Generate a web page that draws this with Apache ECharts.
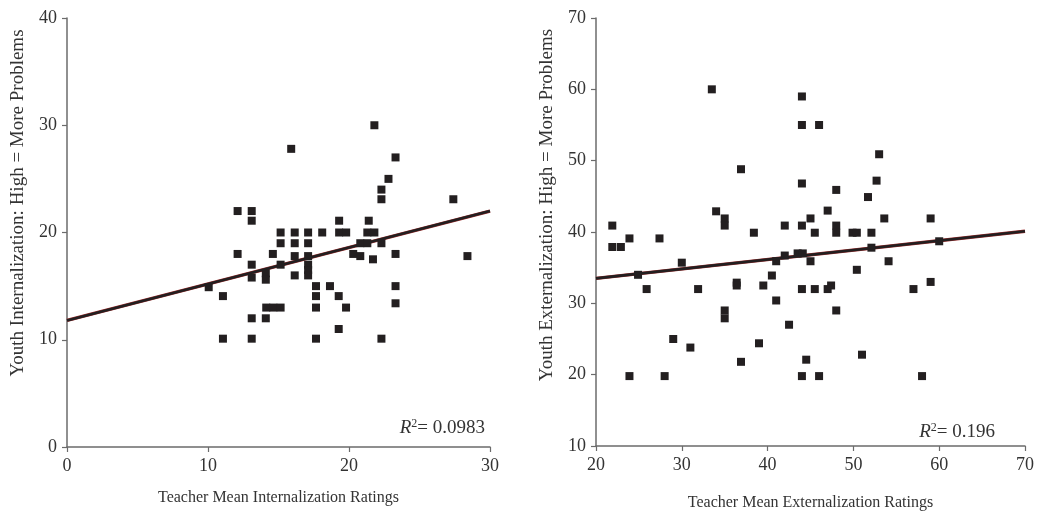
<!DOCTYPE html>
<html>
<head>
<meta charset="utf-8">
<script src="https://cdn.jsdelivr.net/npm/echarts@6/dist/echarts.min.js"></script>
<style>html,body{margin:0;padding:0;background:#fff}#c{width:1043px;height:513px}</style>
</head>
<body>
<div id="c"></div>
<script>
// Left panel: Teacher Mean Internalization (x) vs Youth Internalization (y)
const intPoints = [
  [15.9,27.8],[12.1,22.0],[13.1,22.0],[13.1,21.1],[19.3,21.1],
  [15.15,20.0],[16.15,20.0],[17.1,20.0],[18.1,20.0],[19.3,20.0],[19.8,20.0],
  [15.15,19.0],[16.15,19.0],[17.1,19.0],[12.1,18.0],[14.6,18.0],
  [16.15,17.8],[17.1,17.8],[13.1,17.0],[15.15,17.0],[17.1,17.0],[17.1,16.5],
  [13.1,15.8],[14.1,16.2],[14.1,15.6],[16.15,16.0],[17.1,16.0],
  [10.05,14.9],[11.06,14.07],[17.66,15.0],[18.65,15.0],[17.66,14.07],[19.27,14.07],
  [14.13,13.0],[14.63,13.0],[15.15,13.0],[17.66,13.0],[19.79,13.0],
  [13.1,12.0],[14.1,12.0],[19.27,11.0],[11.06,10.1],[13.1,10.1],[17.66,10.1],
  [21.8,30.0],[23.3,27.0],[22.8,25.0],[22.3,24.0],[22.3,23.1],[27.4,23.1],
  [21.4,21.1],[21.3,20.0],[21.8,20.0],[20.8,19.0],[21.3,19.0],[22.3,19.0],
  [20.3,18.0],[20.8,17.8],[21.7,17.5],[23.3,18.0],[28.4,17.8],
  [23.3,15.0],[23.3,13.4],[22.3,10.1]
];
const intFit = [[0,11.8],[30,22.0]];
const intR2 = '0.0983';

// Right panel: Teacher Mean Externalization (x) vs Youth Externalization (y)
const extPoints = [
  [33.5,60.0],[36.9,48.8],[21.9,40.9],[34.0,42.9],[35.0,41.9],[35.0,40.9],
  [38.4,39.9],[23.9,39.1],[27.4,39.1],[21.9,37.9],[22.9,37.9],
  [30.0,35.7],[24.9,34.0],[25.9,32.0],[31.9,32.0],[36.4,32.9],[36.4,32.5],
  [39.5,32.5],[35.0,29.0],[35.0,27.9],[29.0,25.0],[31.0,23.8],[39.0,24.4],
  [36.9,21.8],[23.9,19.8],[28.0,19.8],
  [44.0,59.0],[44.0,55.0],[46.0,55.0],[53.0,50.9],[52.7,47.2],[44.0,46.8],
  [48.0,45.9],[51.7,44.9],[47.0,43.0],[45.0,41.9],[53.6,41.9],[59.0,41.9],
  [42.0,40.9],[44.0,40.9],[48.0,40.9],[45.5,39.9],[48.0,39.9],[49.9,39.9],
  [50.4,39.9],[52.1,39.9],[60.0,38.7],[52.1,37.8],[42.0,36.7],[43.5,37.0],
  [44.1,37.0],[41.0,35.9],[45.0,35.9],[54.1,35.9],[50.4,34.7],[40.5,33.9],
  [44.0,32.0],[45.5,32.0],[47.0,32.0],[47.4,32.5],[57.0,32.0],[59.0,33.0],
  [41.0,30.4],[48.0,29.0],[42.5,27.0],[51.0,22.8],[44.5,22.1],
  [44.0,19.8],[46.0,19.8],[58.0,19.8]
];
const extFit = [[20,33.5],[70,40.1]];
const extR2 = '0.196';

const FONT = 'Liberation Serif';
const axisCommon = {
  axisLine: {show: true, lineStyle: {color: '#6b6b6b', width: 1.5}},
  axisTick: {show: true, inside: false, length: 5, lineStyle: {color: '#6b6b6b', width: 1.2}},
  splitLine: {show: false},
  axisLabel: {color: '#333', fontFamily: FONT, fontSize: 18, margin: 10}
};

const chart = echarts.init(document.getElementById('c'), null, {renderer: 'canvas'});
const markerStyle = {color: '#231f20', opacity: 1};
function fitSeries(data, xi, yi) {
  return [
    {type: 'line', xAxisIndex: xi, yAxisIndex: yi, data: data, symbol: 'none', silent: true,
     lineStyle: {color: '#9a2a2a', width: 3.4}, z: 3},
    {type: 'line', xAxisIndex: xi, yAxisIndex: yi, data: data, symbol: 'none', silent: true,
     lineStyle: {color: '#231f20', width: 2.6}, z: 4}
  ];
}
const r2Rich = {
  i: {font: 'italic 19px "Liberation Serif"', fill: '#333'},
  s: {font: '12px "Liberation Serif"', fill: '#333', verticalAlign: 'top', padding: [0, 0, 9, 0]},
  n: {font: '19px "Liberation Serif"', fill: '#333'}
};
chart.setOption({
  animation: false,
  backgroundColor: '#fff',
  grid: [
    {left: 67, right: 553, top: 18, bottom: 66, containLabel: false, outerBoundsMode: 'none'},
    {left: 596, right: 18, top: 18, bottom: 67, containLabel: false, outerBoundsMode: 'none'}
  ],
  xAxis: [
    Object.assign({gridIndex: 0, type: 'value', min: 0, max: 30, interval: 10,
      name: 'Teacher Mean Internalization Ratings', nameLocation: 'middle', nameGap: 43,
      nameTextStyle: {color: '#333', fontFamily: FONT, fontSize: 16}}, axisCommon),
    Object.assign({gridIndex: 1, type: 'value', min: 20, max: 70, interval: 10,
      name: 'Teacher Mean Externalization Ratings', nameLocation: 'middle', nameGap: 49,
      nameTextStyle: {color: '#333', fontFamily: FONT, fontSize: 16}}, axisCommon)
  ],
  yAxis: [
    Object.assign({gridIndex: 0, type: 'value', min: 0, max: 40, interval: 10}, axisCommon),
    Object.assign({gridIndex: 1, type: 'value', min: 10, max: 70, interval: 10}, axisCommon)
  ],
  graphic: [
    {type: 'text', x: 18, y: 203, rotation: Math.PI / 2,
     style: {text: 'Youth Internalization: High = More Problems', fill: '#333',
       font: '19px "Liberation Serif"', textAlign: 'center', textVerticalAlign: 'middle'}},
    {type: 'text', x: 547, y: 205, rotation: Math.PI / 2,
     style: {text: 'Youth Externalization: High = More Problems', fill: '#333',
       font: '19px "Liberation Serif"', textAlign: 'center', textVerticalAlign: 'middle'}},
    {type: 'text', x: 485, y: 428,
     style: {rich: r2Rich, text: '{i|R}{s|2}{n|= ' + intR2 + '}', textAlign: 'right', textVerticalAlign: 'middle'}},
    {type: 'text', x: 995, y: 432,
     style: {rich: r2Rich, text: '{i|R}{s|2}{n|= ' + extR2 + '}', textAlign: 'right', textVerticalAlign: 'middle'}}
  ],
  series: [
    {type: 'scatter', xAxisIndex: 0, yAxisIndex: 0, data: intPoints, symbol: 'rect',
     symbolSize: 8, itemStyle: markerStyle, z: 5},
    {type: 'scatter', xAxisIndex: 1, yAxisIndex: 1, data: extPoints, symbol: 'rect',
     symbolSize: 8, itemStyle: markerStyle, z: 5}
  ].concat(fitSeries(intFit, 0, 0), fitSeries(extFit, 1, 1))
});
</script>
</body>
</html>
